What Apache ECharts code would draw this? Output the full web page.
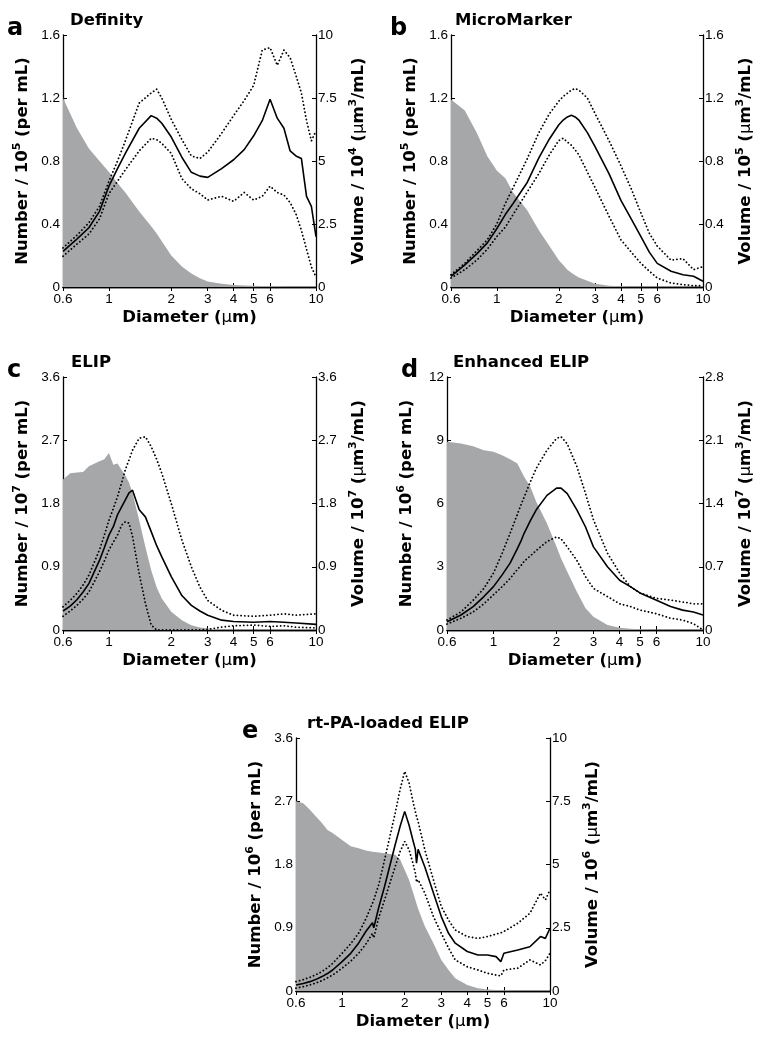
<!DOCTYPE html>
<html><head><meta charset="utf-8">
<script src="https://cdn.jsdelivr.net/npm/echarts@6/dist/echarts.min.js"></script>
<style>html,body{margin:0;padding:0;background:#fff}#c{width:769px;height:1041px}</style>
</head><body><div id="c"></div>
<script>
// ---------- data ----------
const xTicks = [0.6, 1, 2, 3, 4, 5, 6, 10];

// a: Definity
const aD    = [0.6,0.7,0.8,0.9,1.0,1.1,1.2,1.4,1.6,1.7,1.8,2.0,2.25,2.5,2.75,3.0,3.5,4.0,4.5,5.0,5.5,6.0,6.5,7.0,7.5,8.0,8.5,9.0,9.5,10];
const aNum  = [1.20,1.01,0.88,0.80,0.73,0.66,0.60,0.48,0.385,0.34,0.29,0.20,0.13,0.085,0.055,0.035,0.02,0.013,0.01,0.008,0.006,0.005,0.004,0.003,0.002,0.002,0.002,0.001,0.001,0.001];
const aMean = [1.41,1.90,2.35,3.00,4.00,4.70,5.30,6.30,6.80,6.70,6.50,5.95,5.15,4.55,4.40,4.35,4.70,5.05,5.45,6.00,6.60,7.45,6.70,6.30,5.40,5.20,5.10,3.60,3.20,2.00];
const aUp   = [1.55,2.05,2.55,3.20,4.20,5.00,5.80,7.30,7.70,7.85,7.50,6.65,5.85,5.20,5.10,5.35,6.10,6.80,7.40,8.00,9.40,9.50,8.80,9.40,9.10,8.40,7.70,6.60,5.80,6.20];
const aLow  = [1.22,1.70,2.10,2.70,3.70,4.20,4.65,5.40,5.90,5.85,5.70,5.30,4.30,3.90,3.70,3.45,3.60,3.40,3.75,3.45,3.60,4.00,3.75,3.65,3.35,2.90,2.25,1.50,0.80,0.40];

// b: MicroMarker
const bD    = [0.6,0.7,0.8,0.9,1.0,1.1,1.2,1.4,1.6,1.8,2.0,2.1,2.2,2.3,2.4,2.5,2.75,3.0,3.5,4.0,4.5,5.0,5.5,6.0,7.0,8.0,9.0,10];
const bNum  = [1.19,1.12,0.98,0.83,0.74,0.69,0.60,0.49,0.36,0.26,0.17,0.14,0.11,0.09,0.075,0.06,0.04,0.02,0.008,0.004,0.002,0.001,0.001,0.001,0.0005,0.0005,0.0005,0.0005];
const bMean = [0.068,0.14,0.21,0.28,0.37,0.46,0.53,0.66,0.82,0.94,1.03,1.06,1.08,1.09,1.08,1.06,0.98,0.89,0.72,0.55,0.43,0.32,0.22,0.15,0.10,0.078,0.068,0.036];
const bUp   = [0.078,0.15,0.23,0.30,0.40,0.53,0.63,0.81,0.98,1.10,1.18,1.21,1.23,1.25,1.26,1.25,1.20,1.10,0.93,0.77,0.62,0.47,0.34,0.26,0.17,0.18,0.11,0.13];
const bLow  = [0.057,0.11,0.17,0.24,0.32,0.38,0.46,0.60,0.72,0.84,0.93,0.945,0.92,0.90,0.87,0.84,0.73,0.63,0.45,0.30,0.22,0.15,0.10,0.057,0.025,0.015,0.008,0.008];

// c: ELIP
const cD    = [0.6,0.65,0.7,0.75,0.8,0.9,0.95,1.0,1.05,1.1,1.15,1.2,1.25,1.3,1.4,1.5,1.6,1.7,1.8,2.0,2.25,2.5,2.75,3.0,3.5,4.0,5.0,6.0,7.0,8.0,10];
const cNum  = [2.14,2.23,2.24,2.25,2.33,2.40,2.43,2.52,2.35,2.37,2.28,2.20,2.10,1.95,1.56,1.18,0.85,0.61,0.45,0.26,0.14,0.067,0.035,0.02,0.005,0.002,0,0,0,0,0];
const cMean = [0.27,0.34,0.43,0.54,0.66,0.99,1.17,1.35,1.47,1.64,1.75,1.85,1.95,1.99,1.71,1.61,1.40,1.20,1.04,0.76,0.49,0.35,0.27,0.21,0.14,0.12,0.11,0.12,0.11,0.10,0.08];
const cUp   = [0.33,0.42,0.52,0.64,0.78,1.14,1.35,1.56,1.73,1.90,2.09,2.28,2.42,2.56,2.73,2.75,2.61,2.43,2.23,1.80,1.28,0.90,0.61,0.42,0.28,0.21,0.195,0.21,0.23,0.21,0.23];
const cLow  = [0.195,0.27,0.35,0.44,0.54,0.83,0.98,1.14,1.25,1.35,1.49,1.54,1.52,1.33,0.80,0.38,0.07,0,0,0,0,0,0,0.01,0.04,0.06,0.07,0.05,0.06,0.04,0.03];

// d: Enhanced ELIP
const dD    = [0.6,0.7,0.8,0.9,1.0,1.1,1.2,1.3,1.35,1.4,1.5,1.6,1.8,2.0,2.1,2.25,2.5,2.75,3.0,3.5,4.0,4.5,5.0,6.0,7.0,8.0,9.0,10];
const dNum  = [8.93,8.85,8.72,8.53,8.45,8.29,8.10,7.90,7.58,7.27,6.80,6.08,5.05,3.95,3.40,2.76,1.82,1.03,0.63,0.24,0.11,0.06,0.03,0.015,0.005,0.005,0.005,0.005];
const dMean = [0.092,0.166,0.258,0.37,0.48,0.61,0.74,0.90,0.98,1.07,1.21,1.33,1.49,1.57,1.57,1.51,1.33,1.14,0.92,0.70,0.55,0.48,0.41,0.33,0.26,0.22,0.20,0.166];
const dUp   = [0.11,0.20,0.33,0.46,0.63,0.85,1.07,1.28,1.38,1.47,1.64,1.79,1.99,2.12,2.14,2.06,1.81,1.51,1.22,0.85,0.63,0.48,0.41,0.35,0.33,0.31,0.29,0.29];
const dLow  = [0.066,0.13,0.20,0.29,0.39,0.48,0.57,0.67,0.71,0.76,0.82,0.88,0.98,1.03,1.01,0.92,0.77,0.59,0.46,0.37,0.29,0.26,0.22,0.18,0.13,0.11,0.07,0.0];

// e: rt-PA-loaded ELIP
const eD    = [0.6,0.65,0.7,0.75,0.8,0.85,0.9,1.0,1.1,1.2,1.3,1.4,1.42,1.5,1.6,1.8,1.9,2.0,2.1,2.2,2.25,2.28,2.32,2.5,2.75,3.0,3.25,3.5,4.0,4.5,5.0,5.5,5.8,6.0,7.0,8.0,9.0,9.5,10];
const eNum  = [2.70,2.67,2.58,2.48,2.39,2.29,2.25,2.15,2.06,2.03,2.00,1.98,1.98,1.97,1.96,1.94,1.87,1.72,1.58,1.39,1.30,1.24,1.17,0.92,0.68,0.44,0.30,0.18,0.085,0.04,0.02,0.015,0.012,0.01,0.005,0.003,0.003,0.003,0.003];
const eMean = [0.24,0.30,0.37,0.46,0.57,0.69,0.83,1.16,1.49,1.89,2.35,2.70,2.50,3.30,4.13,5.78,6.50,7.10,6.55,5.90,5.60,5.05,5.60,4.90,3.87,2.94,2.28,1.89,1.56,1.42,1.42,1.36,1.16,1.49,1.62,1.75,2.15,2.08,2.48];
const eUp   = [0.37,0.45,0.54,0.65,0.77,0.92,1.09,1.49,1.87,2.28,2.85,3.47,3.60,4.20,5.18,7.03,7.96,8.68,8.22,7.43,7.10,6.90,6.70,5.58,4.39,3.34,2.80,2.41,2.15,2.08,2.15,2.25,2.30,2.35,2.68,3.07,3.87,3.60,4.00];
const eLow  = [0.11,0.17,0.24,0.32,0.41,0.52,0.63,0.90,1.18,1.49,1.85,2.28,2.10,2.90,3.60,4.92,5.51,5.91,5.58,5.00,4.66,4.30,4.40,3.87,2.94,2.28,1.70,1.23,0.96,0.83,0.70,0.63,0.60,0.83,0.90,1.23,1.03,1.20,1.49];

// ---------- panel configuration ----------
const panels = [
  {letter:'a', title:'Definity', D:aD, num:aNum, mean:aMean, up:aUp, low:aLow,
   lMax:1.6, lInt:0.4, rMax:10, rInt:2.5, lExp:'5', rExp:'4',
   box:{left:63, top:35, width:253, height:252}, letterX:7, titleX:70},
  {letter:'b', title:'MicroMarker', D:bD, num:bNum, mean:bMean, up:bUp, low:bLow,
   lMax:1.6, lInt:0.4, rMax:1.6, rInt:0.4, lExp:'5', rExp:'5',
   box:{left:451, top:35, width:252, height:252}, letterX:390, titleX:455},
  {letter:'c', title:'ELIP', D:cD, num:cNum, mean:cMean, up:cUp, low:cLow,
   lMax:3.6, lInt:0.9, rMax:3.6, rInt:0.9, lExp:'7', rExp:'7',
   box:{left:63, top:377, width:253, height:253}, letterX:7, titleX:71},
  {letter:'d', title:'Enhanced ELIP', D:dD, num:dNum, mean:dMean, up:dUp, low:dLow,
   lMax:12, lInt:3, rMax:2.8, rInt:0.7, lExp:'6', rExp:'7',
   box:{left:447, top:377, width:256, height:253}, letterX:401, titleX:453},
  {letter:'e', title:'rt-PA-loaded ELIP', D:eD, num:eNum, mean:eMean, up:eUp, low:eLow,
   lMax:3.6, lInt:0.9, rMax:10, rInt:2.5, lExp:'6', rExp:'6',
   box:{left:296, top:738, width:254, height:253}, letterX:242, titleX:307}
];

const BOLD = 'DejaVu Sans';
const TICKF = 'Liberation Sans';
const GRAY = '#a6a7a9';
const axisLineStyle = {color:'#000', width:1.3};
const rich = {
  s:{fontFamily:BOLD, fontWeight:'bold', fontSize:11, padding:[0,0,11,0], color:'#000'},
  m:{fontFamily:BOLD, fontWeight:'normal', fontSize:16.5, color:'#000'}
};
const nameStyle = {fontFamily:BOLD, fontWeight:'bold', fontSize:16.5, color:'#000', rich:rich};
const dotStyle = {color:'#000', width:1.8, type:[0.1,3.6], cap:'round'};

const grids = [], xAxes = [], yAxes = [], series = [], graphics = [];
panels.forEach((p, i) => {
  grids.push(Object.assign({containLabel:false}, p.box));
  const baseX = {
    type:'log', logBase:10, gridIndex:i, min:0.6, max:10,
    splitLine:{show:false}, minorTick:{show:false},
    axisLine:{show:true, lineStyle:axisLineStyle},
    axisTick:{show:true, inside:true, length:4, customValues:xTicks, lineStyle:{color:'#000', width:1}}
  };
  xAxes.push(Object.assign({}, baseX, {
    position:'bottom',
    axisLabel:{show:true, customValues:xTicks, margin:5, fontFamily:TICKF, fontSize:13.5, color:'#000',
      formatter: v => String(Math.round(v*10)/10)},
    name:'Diameter ({m|μ}m)', nameLocation:'middle', nameGap:22, nameTextStyle:nameStyle
  }));
  xAxes.push(Object.assign({}, baseX, {position:'top', axisLabel:{show:false}}));
  const baseY = {
    type:'value', gridIndex:i, min:0, splitLine:{show:false},
    axisLine:{show:true, lineStyle:axisLineStyle},
    axisTick:{show:true, inside:true, length:4, lineStyle:{color:'#000', width:1}},
    nameLocation:'middle', nameRotate:90, nameTextStyle:nameStyle
  };
  yAxes.push(Object.assign({}, baseY, {
    position:'left', max:p.lMax, interval:p.lInt,
    axisLabel:{margin:3, fontFamily:TICKF, fontSize:13.5, color:'#000'},
    name:'Number / 10{s|' + p.lExp + '} (per mL)', nameGap:29
  }));
  yAxes.push(Object.assign({}, baseY, {
    position:'right', max:p.rMax, interval:p.rInt,
    axisLabel:{margin:2, fontFamily:TICKF, fontSize:13.5, color:'#000'},
    name:'Volume / 10{s|' + p.rExp + '} ({m|μ}m{s|3}/mL)', nameGap:32
  }));
  const pts = arr => p.D.map((d, k) => [d, arr[k]]);
  series.push({type:'line', xAxisIndex:2*i, yAxisIndex:2*i, data:pts(p.num), symbol:'none',
    lineStyle:{width:0}, areaStyle:{color:GRAY, opacity:1}, z:1, silent:true});
  series.push({type:'line', xAxisIndex:2*i, yAxisIndex:2*i+1, data:pts(p.up), symbol:'none',
    lineStyle:dotStyle, z:3, silent:true});
  series.push({type:'line', xAxisIndex:2*i, yAxisIndex:2*i+1, data:pts(p.low), symbol:'none',
    lineStyle:dotStyle, z:3, silent:true});
  series.push({type:'line', xAxisIndex:2*i, yAxisIndex:2*i+1, data:pts(p.mean), symbol:'none',
    lineStyle:{color:'#000', width:1.6}, z:4, silent:true});
  graphics.push({type:'text', z:10, style:{x:p.titleX, y:p.box.top - 14, text:p.title,
    fontFamily:BOLD, fontWeight:'bold', fontSize:16.5, fill:'#000', verticalAlign:'middle'}});
  graphics.push({type:'text', z:10, style:{x:p.letterX, y:p.box.top - 6, text:p.letter,
    fontFamily:BOLD, fontWeight:'bold', fontSize:24, fill:'#000', verticalAlign:'middle'}});
});

const chart = echarts.init(document.getElementById('c'), null, {renderer:'canvas'});
chart.setOption({
  animation:false,
  backgroundColor:'#fff',
  grid:grids, xAxis:xAxes, yAxis:yAxes, series:series, graphic:graphics
});
</script>
</body></html>
